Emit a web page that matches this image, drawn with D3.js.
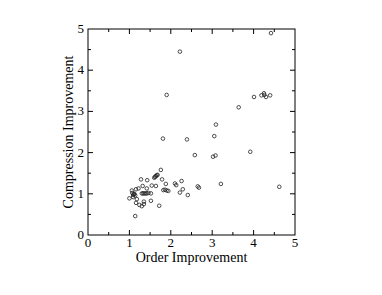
<!DOCTYPE html>
<html>
<head>
<meta charset="utf-8">
<script src="https://cdn.jsdelivr.net/npm/d3@7"></script>
<style>
  html, body { margin: 0; padding: 0; background: #fff; }
  svg { display: block; }
  text { font-family: "Liberation Serif", "Times New Roman", serif; fill: #000; }
</style>
</head>
<body>
<svg id="chart" width="382" height="295"></svg>
<script>
const orderImprovement = [
  4.42, 2.22, 1.90, 3.64, 4.01, 4.19, 4.25, 4.26, 4.30, 4.40,
  3.09, 3.05, 1.81, 2.39, 2.58, 3.08, 3.02, 3.92, 3.21, 2.65,
  4.62, 2.41, 2.22, 2.29, 2.26, 2.10, 2.13, 2.68, 1.76, 1.79,
  1.88, 1.90, 1.94, 1.82, 1.86, 1.60, 1.62, 1.64, 1.66, 1.68,
  1.28, 1.43, 1.32, 1.54, 1.64, 1.22, 1.42, 1.30, 1.33, 1.36,
  1.39, 1.42, 1.46, 1.52, 1.06, 1.16, 1.09, 1.12, 1.14, 1.00,
  1.09, 1.18, 1.16, 1.24, 1.30, 1.35, 1.35, 1.52, 1.72, 1.14,
  1.07, 1.11
];
const compressionImprovement = [
  4.90, 4.45, 3.40, 3.10, 3.35, 3.39, 3.44, 3.40, 3.35, 3.39,
  2.68, 2.40, 2.34, 2.32, 1.94, 1.93, 1.90, 2.02, 1.24, 1.18,
  1.17, 0.97, 1.03, 1.11, 1.31, 1.25, 1.21, 1.15, 1.58, 1.35,
  1.24, 1.08, 1.07, 1.09, 1.10, 1.39, 1.41, 1.43, 1.45, 1.46,
  1.35, 1.33, 1.19, 1.20, 1.19, 1.13, 1.13, 1.01, 1.01, 1.01,
  1.01, 1.01, 1.02, 1.01, 1.08, 1.11, 0.97, 1.00, 0.96, 0.89,
  0.92, 0.87, 0.78, 0.73, 0.70, 0.75, 0.81, 0.83, 0.71, 0.46,
  1.02, 0.99
];
const xTickValues = [0, 1, 2, 3, 4, 5];
const yTickValues = [0, 1, 2, 3, 4, 5];
const minorTickValues = [0.5, 1.5, 2.5, 3.5, 4.5];
const xTitle = "Order Improvement";
const yTitle = "Compression Improvement";

const svg = d3.select("#chart");
const L = 88, R = 295, T = 29, B = 235;
const x = d3.scaleLinear().domain([0, 5]).range([L, R]);
const y = d3.scaleLinear().domain([0, 5]).range([B, T]);

const g = svg.append("g");

// Frame
g.append("rect")
  .attr("x", L).attr("y", T).attr("width", R - L).attr("height", B - T)
  .attr("fill", "none").attr("stroke", "#000").attr("stroke-width", 1);

// Inward ticks on all four sides
function ticks(values, len) {
  values.forEach(v => {
    const px = x(v), py = y(v);
    g.append("line").attr("x1", px).attr("x2", px).attr("y1", B).attr("y2", B - len);
    g.append("line").attr("x1", px).attr("x2", px).attr("y1", T).attr("y2", T + len);
    g.append("line").attr("y1", py).attr("y2", py).attr("x1", L).attr("x2", L + len);
    g.append("line").attr("y1", py).attr("y2", py).attr("x1", R).attr("x2", R - len);
  });
}
ticks(xTickValues.slice(1, -1), 5);
ticks(minorTickValues, 3);
g.selectAll("line").attr("stroke", "#000").attr("stroke-width", 1);

// Tick labels
g.selectAll(".xl").data(xTickValues).enter().append("text")
  .attr("x", d => x(d)).attr("y", 247)
  .attr("text-anchor", "middle").attr("font-size", 13)
  .text(d => d);
g.selectAll(".yl").data(yTickValues).enter().append("text")
  .attr("x", 84).attr("y", d => y(d) + 4)
  .attr("text-anchor", "end").attr("font-size", 13)
  .text(d => d);

// Axis titles
g.append("text").attr("x", (L + R) / 2).attr("y", 262)
  .attr("text-anchor", "middle").attr("font-size", 14).text(xTitle);
g.append("text")
  .attr("transform", `translate(73,${(T + B) / 2}) rotate(-90)`)
  .attr("text-anchor", "middle").attr("font-size", 14).text(yTitle);

// Points
const pts = orderImprovement.map((v, i) => [v, compressionImprovement[i]]);
g.selectAll(".pt").data(pts).enter().append("circle")
  .attr("cx", d => x(d[0])).attr("cy", d => y(d[1]))
  .attr("r", 1.8)
  .attr("fill", "none").attr("stroke", "#222").attr("stroke-width", 0.8);
</script>
</body>
</html>
